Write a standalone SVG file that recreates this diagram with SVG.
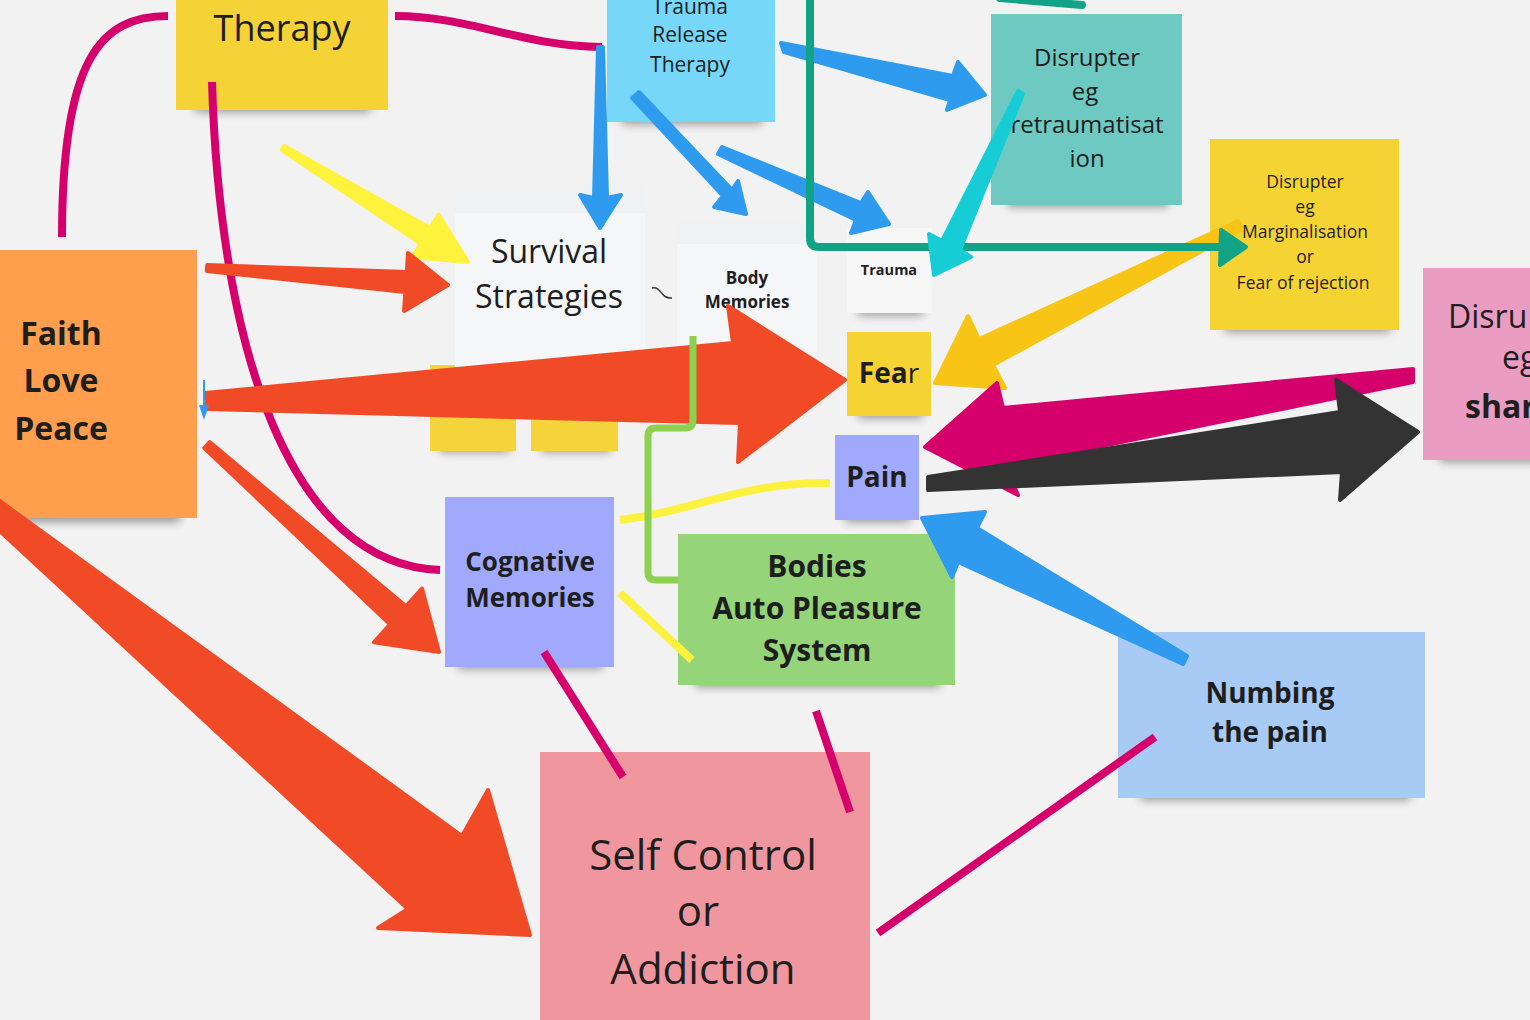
<svg xmlns="http://www.w3.org/2000/svg" width="1530" height="1020" viewBox="0 0 1530 1020">
<defs>
<filter id="blur" x="-30%" y="-100%" width="160%" height="300%"><feGaussianBlur stdDeviation="5"/></filter>
<style>
.sh{fill:#000;opacity:.38;filter:url(#blur)}
.t{font-family:"Open Sans","Noto Sans","Liberation Sans",sans-serif;fill:#1e1e1e;text-anchor:middle}
.b{font-weight:700}
.mg{stroke:#d5006b;fill:none;stroke-width:8}
.ar{stroke-linejoin:round;stroke-width:4}
.red{fill:#f14a26;stroke:#f14a26}
.blue{fill:#2f9bef;stroke:#2f9bef}
</style>
</defs>
<rect width="1530" height="1020" fill="#f2f2f2"/>
<g id="nodes">
<g id="therapy"><rect class="sh" x="195" y="98" width="175" height="14"/><rect x="176" y="-5" width="212" height="115" fill="#f5d236"/><text class="t" x="282" y="41" font-size="36">Therapy</text></g>
<g id="trauma-release"><rect class="sh" x="622" y="110" width="140" height="14"/><rect x="607" y="-5" width="168" height="127" fill="#76d7f8"/><text class="t" x="690" y="14" font-size="21">Trauma</text><text class="t" x="690" y="42" font-size="21">Release</text><text class="t" x="690" y="72" font-size="21">Therapy</text></g>
<g id="disrupter-retraumatisation"><rect class="sh" x="1008" y="193" width="160" height="14"/><rect x="991" y="14" width="191" height="191" fill="#6dc9c1"/><text class="t" x="1087" y="66" font-size="24">Disrupter</text><text class="t" x="1085" y="100" font-size="24">eg</text><text class="t" x="1087" y="133" font-size="24">retraumatisat</text><text class="t" x="1087" y="167" font-size="24">ion</text></g>
<g id="disrupter-marginalisation"><rect class="sh" x="1225" y="318" width="165" height="14"/><rect x="1210" y="139" width="189" height="191" fill="#f5d333"/><text class="t" x="1305" y="188" font-size="17.5">Disrupter</text><text class="t" x="1305" y="213" font-size="17.5">eg</text><text class="t" x="1305" y="238" font-size="17.5">Marginalisation</text><text class="t" x="1305" y="263" font-size="17.5">or</text><text class="t" x="1303" y="289" font-size="17.5">Fear of rejection</text></g>
<g id="disrupter-shame"><rect class="sh" x="1440" y="448" width="100" height="14"/><rect x="1423" y="268" width="120" height="192" fill="#eb9cc2"/><text class="t" x="1448" y="328" font-size="32" style="text-anchor:start">Disru</text><text class="t" x="1502" y="369" font-size="32" style="text-anchor:start">eg</text><text class="t b" x="1465" y="418" font-size="32" style="text-anchor:start">shar</text></g>
<g id="yellow-a"><rect class="sh" x="440" y="440" width="70" height="12"/><rect x="430" y="365" width="86" height="86" fill="#f5d33a"/></g>
<g id="yellow-b"><rect class="sh" x="541" y="440" width="70" height="12"/><rect x="531" y="365" width="87" height="86" fill="#f5d33a"/></g>
<g id="survival"><rect x="455" y="183" width="190" height="184" fill="#f5f6f8"/><rect x="455" y="183" width="190" height="30" fill="#f0f1f3"/><text class="t" x="549" y="263" font-size="32">Survival</text><text class="t" x="549" y="308" font-size="32">Strategies</text></g>
<g id="body-memories"><rect x="677" y="222" width="140" height="175" fill="#f5f6f8"/><rect x="677" y="222" width="140" height="22" fill="#f0f1f3"/><text class="t b" x="747" y="284" font-size="17">Body</text><text class="t b" x="747" y="308" font-size="17">Memories</text></g>
<g id="trauma"><rect class="sh" x="858" y="303" width="65" height="12"/><rect x="847" y="228" width="85" height="85" fill="#f7f7f8"/><text class="t b" x="889" y="275" font-size="14.5">Trauma</text></g>
<g id="fear"><rect class="sh" x="858" y="406" width="65" height="12"/><rect x="847" y="332" width="84" height="84" fill="#f5d333"/><text class="t b" x="889" y="383" font-size="28">Fea<tspan font-weight="400">r</tspan></text></g>
<g id="pain"><rect class="sh" x="845" y="510" width="65" height="12"/><rect x="835" y="435" width="84" height="85" fill="#a0a9fb"/><text class="t b" x="877" y="487" font-size="28">Pain</text></g>
<g id="faith"><rect class="sh" x="10" y="506" width="170" height="16"/><rect x="-5" y="250" width="202" height="268" fill="#ff9f4d"/><text class="t b" x="61" y="345" font-size="32">Faith</text><text class="t b" x="61" y="392" font-size="32">Love</text><text class="t b" x="61" y="440" font-size="32">Peace</text></g>
<g id="cognative"><rect class="sh" x="458" y="655" width="145" height="14"/><rect x="445" y="497" width="169" height="170" fill="#a0a9fb"/><text class="t b" x="530" y="571" font-size="26">Cognative</text><text class="t b" x="530" y="607" font-size="26">Memories</text></g>
<g id="bodies"><rect class="sh" x="695" y="673" width="245" height="14"/><rect x="678" y="534" width="277" height="151" fill="#95d478"/><text class="t b" x="817" y="577" font-size="30">Bodies</text><text class="t b" x="817" y="619" font-size="30">Auto Pleasure</text><text class="t b" x="817" y="661" font-size="30">System</text></g>
<g id="self-control"><rect x="540" y="752" width="330" height="280" fill="#f0969f"/><text class="t" x="703" y="870" font-size="42">Self Control</text><text class="t" x="698" y="926" font-size="42">or</text><text class="t" x="703" y="984" font-size="42">Addiction</text></g>
<g id="numbing"><rect class="sh" x="1140" y="786" width="270" height="14"/><rect x="1118" y="632" width="307" height="166" fill="#a7cbf4"/><text class="t b" x="1270" y="703" font-size="28">Numbing</text><text class="t b" x="1270" y="742" font-size="28">the pain</text></g>
</g>
<g id="connectors">
<path class="mg" d="M168,16 C100,16 62,60 62,237"/>
<path class="mg" d="M395,16 C470,16 520,46 602,47"/>
<path class="mg" d="M212,82 C220,350 290,565 440,570"/>
<path class="mg" d="M544,652 L623,777"/>
<path class="mg" d="M816,711 L850,812"/>
<path class="mg" d="M878,933 L1155,737"/>
<path d="M620,520 C700,510 740,482 830,483" fill="none" stroke="#fdf140" stroke-width="8"/>
<path d="M620,593 L692,660" fill="none" stroke="#fdf140" stroke-width="8"/>
<path d="M652,288 C662,286 660,299 672,298" fill="none" stroke="#333" stroke-width="1.5"/>
<polygon class="ar blue" points="598,47 594,198 580,195 600,228 621,195 607,198 603,47"/>
<polygon class="ar blue" points="632,98 723,196 714,207 746,214 738,181 732,190 639,92"/>
<polygon class="ar blue" points="718,154 856,220 851,233 889,224 868,192 861,203 722,147"/>
<polygon class="ar blue" points="781,43 953,76 958,62 985,95 947,110 950,100 784,52"/>
<polygon class="ar" fill="#f8c516" stroke="#f8c516" points="1238,221 979,339 968,316 935,383 1005,388 993,365 1242,229"/>
<path d="M810,0 V238 Q810,247 819,247 H1228" fill="none" stroke="#12a386" stroke-width="8"/>
<path d="M1221,230 L1246,247 L1220,265 Z" fill="#12a386" stroke="#12a386" stroke-width="4" stroke-linejoin="round"/>
<path d="M1000,-2 L1082,5" fill="none" stroke="#12a386" stroke-width="8" stroke-linecap="round"/>
<polygon class="ar" fill="#16ccd5" stroke="#16ccd5" points="1018,91 942,241 929,234 934,275 971,257 960,250 1023,94"/>
<polygon class="ar" fill="#fff23c" stroke="#fff23c" points="281.7,150 420.7,243.5 412.3,257 468,262 438.5,214.5 430,228 284.3,146"/>
<polygon class="ar red" points="206.8,271 405.4,292 404,311 448,285 408,253 406.8,272 207.2,265"/>
<polygon class="ar red" points="205,393 733,343 728,306 845,380 738,462 740,423 205,409"/>
<path d="M693,336 V420 Q693,428 685,428 H656 Q648,428 648,436 V572 Q648,580 656,580 H678" fill="none" stroke="#8ed04f" stroke-width="7"/>
<polygon class="ar red" points="204.3,448 390,624.4 374,642.3 439,652 422,588.5 406,606.4 209.7,442"/>
<polygon class="ar red" points="-10,494 462,836 488,790 530,935 378,928 408,909 -10,522"/>
<polygon class="ar" fill="#d5006b" stroke="#d5006b" points="1413,369 1003,408 997,383 925,447 1018,495 1005,466 1413,382"/>
<polygon class="ar" fill="#333333" stroke="#333333" points="928,477 1340,412 1336,380 1418,432 1340,500 1342,472 928,490"/>
<polygon class="ar blue" points="1187,656 977,528 985,512 922,518 952,577 958,562 1183,664"/>
<polygon points="203,380 203,405 199,405 204,420 209,405 205,405 205,380" fill="#2f9bef"/>
</g>
</svg>
